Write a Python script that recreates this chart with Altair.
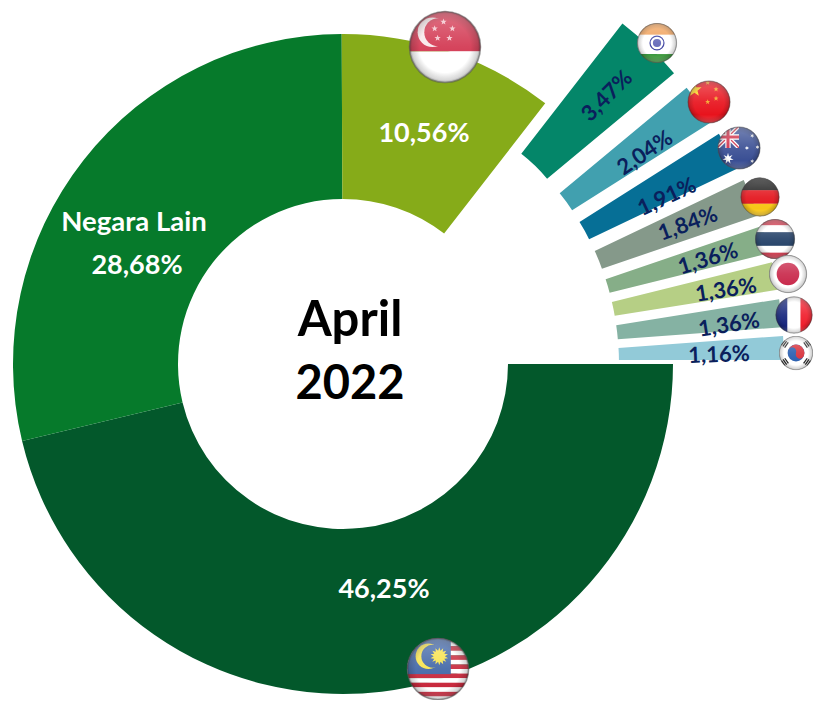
import base64, math
import altair as alt
import pandas as pd

# ---- chart values ----
names = ["Malaysia", "Negara Lain", "Singapura", "India", "China", "Australia",
         "Jerman", "Thailand", "Jepang", "Prancis", "Korea Selatan"]
values = [46.25, 28.68, 10.56, 3.47, 2.04, 1.91, 1.84, 1.36, 1.36, 1.36, 1.16]
colors = ["#03582B", "#067A2B", "#86AB19", "#048669", "#41A0AF", "#066F96",
          "#85998A", "#86AE88", "#B6CF85", "#85B2A3", "#92CAD8"]
explode = [0, 0, 0, 111, 111, 111, 111, 111, 111, 111, 111]

# label texts and placement (page position of the centre, rotation)
label_text = ["46,25%", "28,68%", "10,56%", "3,47%", "2,04%", "1,91%", "1,84%", "1,36%", "1,36%", "1,36%", "1,16%", "Negara Lain", "April", "2022"]
label_px = [384, 137, 424, 607, 645, 667, 688, 708, 726, 729, 719, 134, 350, 350]
label_py = [590, 266, 134, 96, 153, 197, 224, 259, 290, 325, 355, 223, 321, 385]
label_rot = [0, 0, 0, 315, 326, 335, 340, 343, 351, 351, 358, 0, 0, 0]
label_size = [27, 27, 27, 22, 22, 22, 22, 22, 22, 22, 22, 27.5, 49, 47]
label_col = ["#FFFFFF"] * 3 + ["#0A1F5C"] * 8 + ["#FFFFFF"] + ["#000000"] * 2

CX, CY, R_OUT, R_IN = 343, 364, 330, 165
ORIGIN = 8
W, H = 805, 692
xs = alt.Scale(domain=[ORIGIN - CX, ORIGIN - CX + W], range=[0, W])
ys = alt.Scale(domain=[CY - ORIGIN - H, CY - ORIGIN], range=[H, 0])


def star(cx, cy, r, fill, n=5, inner=0.42):
    pts = []
    for i in range(2 * n):
        a = math.pi * i / n - math.pi / 2
        q = r if i % 2 == 0 else r * inner
        pts.append(f"{cx + q * math.cos(a):.1f},{cy + q * math.sin(a):.1f}")
    return f'<polygon points="{" ".join(pts)}" fill="{fill}"/>'


def bands(spec):
    out, y = "", -50
    total = sum(s for s, _ in spec)
    for s, c in spec:
        h = 100 * s / total
        out += f'<rect x="-50" y="{y:.2f}" width="100" height="{h + 0.3:.2f}" fill="{c}"/>'
        y += h
    return out


def flag(body, rim="#555555"):
    svg = (
        '<svg xmlns="http://www.w3.org/2000/svg" width="200" height="200" viewBox="-50 -50 100 100">'
        '<defs><clipPath id="c"><circle r="48"/></clipPath>'
        '<radialGradient id="e"><stop offset="0.72" stop-color="#000" stop-opacity="0"/>'
        '<stop offset="0.93" stop-color="#000" stop-opacity="0.18"/>'
        '<stop offset="1" stop-color="#000" stop-opacity="0.45"/></radialGradient>'
        '<linearGradient id="g" x1="0" y1="0" x2="0" y2="1">'
        '<stop offset="0" stop-color="#fff" stop-opacity="0.30"/>'
        '<stop offset="0.5" stop-color="#fff" stop-opacity="0.08"/>'
        '<stop offset="0.8" stop-color="#fff" stop-opacity="0"/>'
        '<stop offset="1" stop-color="#fff" stop-opacity="0.2"/></linearGradient></defs>'
        f'<g clip-path="url(#c)">{body}</g>'
        '<circle r="48" fill="url(#e)"/><circle r="48" fill="url(#g)"/>'
        f'<circle r="48" fill="none" stroke="{rim}" stroke-opacity="0.55" stroke-width="2"/>'
        '</svg>'
    )
    return "data:image/svg+xml;base64," + base64.b64encode(svg.encode()).decode()


singapore = (
    '<rect x="-50" y="-50" width="100" height="56" fill="#D2354F"/>'
    '<rect x="-50" y="6" width="100" height="45" fill="#FFFFFF"/>'
    '<circle cx="-17" cy="-20" r="20" fill="#F8E8EA"/><circle cx="-9" cy="-20" r="19" fill="#D2354F"/>'
    + "".join(star(x, y, 4.5, "#F3C3CB") for x, y in [(-2, -34), (10, -25), (-14, -25), (-10, -12), (6, -12)])
)

stripes = [(1, "#C8283C" if i % 2 == 0 else "#FFFFFF") for i in range(14)]
malaysia = (
    bands(stripes)
    + '<rect x="-50" y="-50" width="70" height="58" fill="#4065A6"/>'
    + '<circle cx="-15" cy="-20" r="20" fill="#F7E24A"/><circle cx="-8" cy="-20" r="18" fill="#4065A6"/>'
    + star(2, -20, 14, "#F7E24A", n=14, inner=0.62)
)

india = (
    '<rect x="-50" y="-50" width="100" height="30" fill="#F0A058"/>'
    '<rect x="-50" y="-20" width="100" height="47" fill="#FFFFFF"/>'
    '<rect x="-50" y="27" width="100" height="24" fill="#3F9A3F"/>'
    '<circle cy="0" r="17" fill="none" stroke="#3A3F9F" stroke-width="3"/>'
    '<circle cy="0" r="10" fill="#6266B8"/>'
)

china = '<rect x="-50" y="-50" width="100" height="100" fill="#E8131D"/>' + star(-33, -28, 17, "#FFD21F") + "".join(
    star(x, y, 6, "#F4A52A") for x, y in [(-3, -44), (16, -29), (16, -8), (-3, 0)]
)

australia = (
    '<defs><clipPath id="q"><rect x="-50" y="-50" width="50" height="50"/></clipPath></defs>'
    '<rect x="-50" y="-50" width="100" height="100" fill="#3A4F94"/>'
    '<g clip-path="url(#q)"><path d="M-50,-50 L0,0 M0,-50 L-50,0" stroke="#fff" stroke-width="9"/>'
    '<path d="M-50,-50 L0,0 M0,-50 L-50,0" stroke="#D0304A" stroke-width="3"/>'
    '<path d="M-25,-50 V0 M-50,-25 H0" stroke="#fff" stroke-width="12"/>'
    '<path d="M-25,-50 V0 M-50,-25 H0" stroke="#D0304A" stroke-width="7"/></g>'
    + star(-25, 24, 13, "#FFFFFF", n=7)
    + "".join(star(x, y, 5, "#FFFFFF", n=6) for x, y in [(30, -28), (42, -2), (18, 0), (30, 30)])
)

germany = (
    '<rect x="-50" y="-50" width="100" height="34" fill="#1E1E1E"/>'
    '<rect x="-50" y="-17" width="100" height="34" fill="#E4141C"/>'
    '<rect x="-50" y="17" width="100" height="34" fill="#F7C617"/>'
)
thailand = bands([(1, "#D0364A"), (1, "#FFFFFF"), (2, "#223F66"), (1, "#FFFFFF"), (1, "#D0364A")])
japan = '<rect x="-50" y="-50" width="100" height="100" fill="#FFFFFF"/><circle r="29" fill="#C92A4C"/>'
france = (
    '<rect x="-50" y="-50" width="33" height="100" fill="#17267D"/>'
    '<rect x="-17" y="-50" width="34" height="100" fill="#FFFFFF"/>'
    '<rect x="17" y="-50" width="33" height="100" fill="#F01E2C"/>'
)


def tri(cx, cy, rot):
    return (
        f'<g transform="translate({cx},{cy}) rotate({rot})" fill="#222">'
        '<rect x="-9" y="-8" width="18" height="3.5"/><rect x="-9" y="-2" width="18" height="3.5"/>'
        '<rect x="-9" y="4" width="18" height="3.5"/></g>'
    )


korea = (
    '<rect x="-50" y="-50" width="100" height="100" fill="#FFFFFF"/>'
    '<circle r="24" fill="#2A5FB0"/>'
    '<path d="M-24,0 A24,24 0 0 1 24,0 A12,12 0 0 1 0,0 A12,12 0 0 0 -24,0 Z" fill="#D8323C" transform="rotate(20)"/>'
    + tri(-32, -26, -55) + tri(32, -26, 55) + tri(-32, 26, 55) + tri(32, 26, -55)
)

flag_px = [438, 445, 657, 709, 739, 760, 775, 788, 794, 796]
flag_py = [669, 47, 43, 102, 148, 197, 239, 274, 315, 353]
flag_size = [64, 74, 41, 44, 44, 40, 41, 39, 38, 35]
flag_body = [malaysia, singapore, india, china, australia, germany, thailand, japan, france, korea]

# ---- build tables ----
df = pd.DataFrame({"name": names, "value": values, "color": colors, "explode": explode})
df["end"] = df["value"].cumsum()
df["start"] = df["end"] - df["value"]
total = float(df["value"].sum())

arcs = (
    alt.Chart(df)
    .transform_calculate(mid=f"PI/2 + 2*PI*(datum.start+datum.end)/2/{total}")
    .transform_calculate(dx="datum.explode*sin(datum.mid)", dy="datum.explode*cos(datum.mid)")
    .mark_arc(innerRadius=R_IN, outerRadius=R_OUT)
    .encode(
        x=alt.X("dx:Q", scale=xs, axis=None),
        y=alt.Y("dy:Q", scale=ys, axis=None),
        theta=alt.Theta("start:Q", scale=alt.Scale(domain=[0, total], range=[math.pi / 2, math.pi / 2 + 2 * math.pi])),
        theta2="end:Q",
        color=alt.Color("color:N", scale=None, legend=None),
        tooltip=["name:N", "value:Q"],
    )
)

lab = pd.DataFrame({"t": label_text, "x": [p - CX for p in label_px], "y": [CY - p for p in label_py],
                    "rot": label_rot, "size": label_size, "col": label_col})
labels = (
    alt.Chart(lab)
    .mark_text(font="Lato", fontWeight="bold", align="center", baseline="middle")
    .encode(
        x=alt.X("x:Q", scale=xs, axis=None),
        y=alt.Y("y:Q", scale=ys, axis=None),
        text="t:N",
        angle=alt.Angle("rot:Q", scale=None),
        size=alt.Size("size:Q", scale=None, legend=None),
        color=alt.Color("col:N", scale=None, legend=None),
    )
)

layers = [arcs, labels]
for px, py, s, body in zip(flag_px, flag_py, flag_size, flag_body):
    d = pd.DataFrame({"x": [px - CX], "y": [CY - py], "u": [flag(body)]})
    layers.append(
        alt.Chart(d)
        .mark_image(width=s, height=s)
        .encode(x=alt.X("x:Q", scale=xs, axis=None), y=alt.Y("y:Q", scale=ys, axis=None), url="u:N")
    )

chart = (
    alt.layer(*layers)
    .properties(width=W, height=H, padding=0, autosize=alt.AutoSizeParams(type="none"), background="white")
    .configure_view(stroke=None)
)
chart.save("out.html", embed_options={"renderer": "svg", "actions": False})
